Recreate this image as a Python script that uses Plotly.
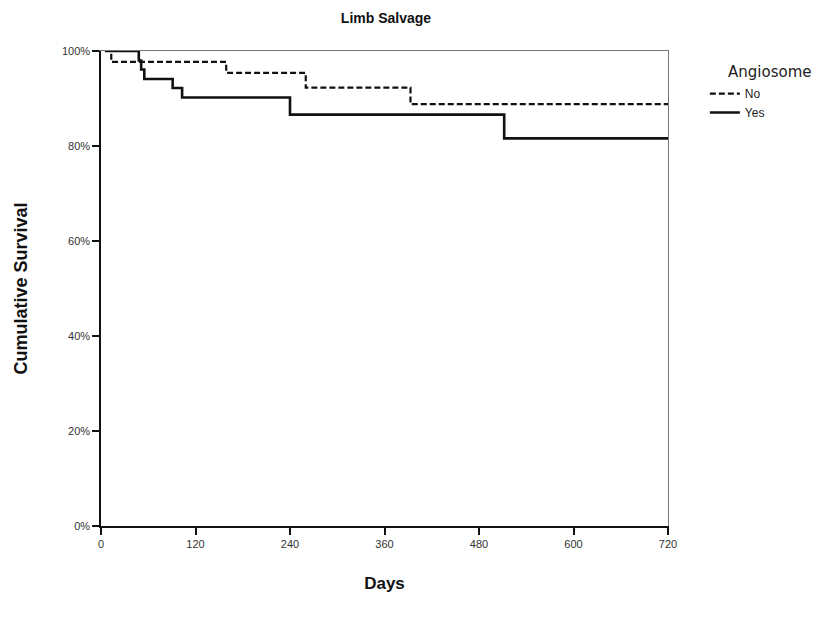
import plotly.graph_objects as go

# Kaplan-Meier step data (days, cumulative survival %)
yes_days = [5, 48, 51, 55, 91, 103, 240, 512, 720]
yes_surv = [100, 98.0, 96.1, 94.1, 92.2, 90.2, 86.6, 81.6, 81.6]
no_days = [5, 13, 159, 260, 393, 720]
no_surv = [100, 97.7, 95.4, 92.3, 88.8, 88.8]

x_ticks = [0, 120, 240, 360, 480, 600, 720]
y_ticks = [0, 20, 40, 60, 80, 100]

L, T, W, H = 93, 43, 567, 475

fig = go.Figure()
fig.add_trace(go.Scatter(x=no_days, y=no_surv, mode="lines", name="No",
                         line=dict(shape="hv", color="#111", width=2.2, dash="6px,3px")))
fig.add_trace(go.Scatter(x=yes_days, y=yes_surv, mode="lines", name="Yes",
                         line=dict(shape="hv", color="#111", width=2.6)))

fig.update_layout(
    width=820, height=620,
    paper_bgcolor="white", plot_bgcolor="white",
    margin=dict(l=L, r=820 - L - W, t=T, b=620 - T - H),
    font=dict(family="Liberation Sans, Arial, sans-serif", color="#222"),
    title=dict(text="<b>Limb Salvage</b>", x=378 / 820, xanchor="center",
               y=1 - 10 / 620, yanchor="middle", font=dict(size=14, color="#111")),
    showlegend=True,
    legend=dict(x=1.065, y=0.941, xanchor="left", yanchor="top",
                font=dict(size=12, color="#222"), bgcolor="rgba(0,0,0,0)",
                tracegroupgap=0, itemwidth=30),
    annotations=[dict(text="Angiosome", x=(718 - L) / W, y=(T + H - 64) / H,
                      xref="paper", yref="paper", showarrow=False,
                      xanchor="left", yanchor="middle",
                      font=dict(family="DejaVu Sans, sans-serif", size=15, color="#222"))],
    xaxis2=dict(overlaying="x", side="top", range=[0, 720], showline=True,
                linecolor="#777", linewidth=1, showticklabels=False, ticks="",
                showgrid=False, zeroline=False),
    yaxis2=dict(overlaying="y", side="right", range=[0, 100], showline=True,
                linecolor="#777", linewidth=1, showticklabels=False, ticks="",
                showgrid=False, zeroline=False),
)
# invisible trace to activate the top/right frame axes
fig.add_trace(go.Scatter(x=[no_days[0]], y=[no_surv[0]], xaxis="x2", yaxis="y2",
                         mode="markers", marker=dict(opacity=0), showlegend=False,
                         hoverinfo="skip"))

fig.layout.xaxis.update(range=[0, 720], tickvals=x_ticks, ticktext=[str(v) for v in x_ticks],
                        showgrid=False, zeroline=False, showline=True, linecolor="#111",
                        linewidth=1.5, ticks="outside", ticklen=7, tickwidth=1.5,
                        tickcolor="#111", tickfont=dict(size=11, color="#333"),
                        title=dict(text="<b>Days</b>", font=dict(size=17, color="#111"),
                                   standoff=28))
fig.layout.yaxis.update(range=[0, 100], tickvals=y_ticks, ticktext=[f"{v}%" for v in y_ticks],
                        showgrid=False, zeroline=False, showline=True, linecolor="#111",
                        linewidth=1.5, ticks="outside", ticklen=7, tickwidth=1.5,
                        tickcolor="#111", tickfont=dict(size=11, color="#333"),
                        title=dict(text="<b>Cumulative Survival</b>",
                                   font=dict(size=18, color="#111"), standoff=30))

fig.write_html("out.html")
